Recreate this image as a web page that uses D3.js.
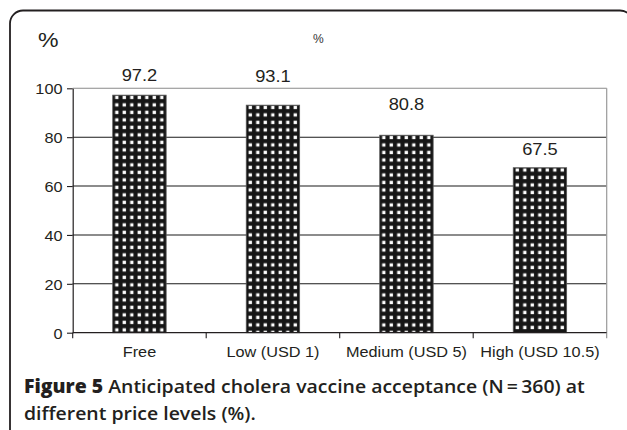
<!DOCTYPE html>
<html><head><meta charset="utf-8">
<script src="https://cdn.jsdelivr.net/npm/d3@7"></script>
<style>
html,body{margin:0;padding:0;background:#fff;}
svg{display:block;}
</style>
</head><body>
<script>
const categories = ["Free", "Low (USD 1)", "Medium (USD 5)", "High (USD 10.5)"];
const values = [97.2, 93.1, 80.8, 67.5];
const valueLabels = ["97.2", "93.1", "80.8", "67.5"];
const labelAt = [103, 102.6, 91.2, 72.7];
const yTicks = [0, 20, 40, 60, 80, 100];
const yTitle = "%";
const smallTitle = "%";
const captionBold = "Figure 5";
const captionLine1 = " Anticipated cholera vaccine acceptance (N\u2009=\u2009360) at";
const captionLine2 = "different price levels (%).";

const W = 627, H = 430;
const ink = "#231f20";
const chartFont = "'Liberation Sans', Arial, sans-serif";
const capFont = "'Open Sans', 'Noto Sans', sans-serif";

const svg = d3.select("body").append("svg").attr("width", W).attr("height", H);

// Frame
svg.append("rect").attr("x", 10).attr("y", 10.5).attr("width", 623).attr("height", 470)
  .attr("rx", 13).attr("fill", "none").attr("stroke", ink).attr("stroke-width", 1.8);

const x = d3.scaleBand().domain(categories).range([72.7, 606.7]).padding(0);
const y = d3.scaleLinear().domain([0, 100]).range([332.7, 88.3]);
const bw = x.bandwidth();

function stretchText(sel, s) {
  sel.each(function () {
    const t = d3.select(this);
    const tx = +t.attr("x") || 0, ty = +t.attr("y") || 0;
    t.attr("x", 0).attr("y", 0).attr("transform", `translate(${tx},${ty}) scale(${s},1)`);
  });
}

// Gridlines
const grid = svg.append("g");
grid.selectAll("line").data(yTicks.filter(d => d > 0)).join("line")
  .attr("x1", 72.7).attr("x2", 606.7)
  .attr("y1", d => y(d)).attr("y2", d => y(d))
  .attr("stroke", d => d === 100 ? "#8a8a8a" : "#1a1a1a").attr("stroke-width", 1.1);
// Right border
svg.append("line").attr("x1", 606.7).attr("x2", 606.7).attr("y1", y(100)).attr("y2", y(0))
  .attr("stroke", "#9a9a9a").attr("stroke-width", 1.2);

// Patterns & bars
const defs = svg.append("defs");
const ps = 7.5;
categories.forEach((c, i) => {
  const bx = x(c) + bw * 0.3, by = y(values[i]);
  const p = defs.append("pattern").attr("id", "dots" + i)
    .attr("patternUnits", "userSpaceOnUse").attr("x", bx).attr("y", by)
    .attr("width", ps).attr("height", ps);
  p.append("rect").attr("width", ps).attr("height", ps).attr("fill", "#161616");
  p.append("rect").attr("x", 2.4).attr("y", 0.6).attr("width", 3.3).attr("height", 3.3).attr("fill", "#fff");
});
svg.append("g").selectAll("rect").data(categories).join("rect")
  .attr("x", d => x(d) + bw * 0.3)
  .attr("y", (d, i) => y(values[i]))
  .attr("width", bw * 0.4)
  .attr("height", (d, i) => y(0) - y(values[i]))
  .attr("fill", (d, i) => `url(#dots${i})`)
  .attr("stroke", "#555").attr("stroke-width", 0.8);

// Y axis
const yAxis = svg.append("g").attr("transform", "translate(72.7,0)")
  .call(d3.axisLeft(y).tickValues(yTicks).tickSize(5.7).tickSizeOuter(0).tickPadding(4.5));
yAxis.select(".domain").attr("stroke", ink).attr("stroke-width", 1.2);
yAxis.selectAll(".tick line").attr("stroke", ink).attr("stroke-width", 1.1);
yAxis.selectAll(".tick text").attr("fill", ink).attr("font-family", chartFont).attr("font-size", 14.8).attr("dy", "0.36em");
stretchText(yAxis.selectAll(".tick text"), 1.1);

// X axis
svg.append("line").attr("x1", 72.7).attr("x2", 606.7).attr("y1", y(0)).attr("y2", y(0))
  .attr("stroke", ink).attr("stroke-width", 1.2);
const bounds = categories.map(c => x(c)).concat([x.range()[1]]);
svg.append("g").selectAll("line").data(bounds).join("line")
  .attr("x1", d => d).attr("x2", d => d).attr("y1", y(0)).attr("y2", y(0) + 5.5)
  .attr("stroke", (d, i) => i === bounds.length - 1 ? "#8a8a8a" : ink).attr("stroke-width", 1.1);
const xl = svg.append("g").selectAll("text").data(categories).join("text")
  .attr("x", d => x(d) + bw / 2).attr("y", 357.3)
  .attr("text-anchor", "middle").attr("font-family", chartFont).attr("font-size", 14.8)
  .attr("fill", ink).text(d => d);
stretchText(xl, 1.1);

// Value labels
const vl = svg.append("g").selectAll("text").data(categories).join("text")
  .attr("x", d => x(d) + bw / 2).attr("y", (d, i) => y(labelAt[i]))
  .attr("text-anchor", "middle").attr("font-family", chartFont).attr("font-size", 16.2)
  .attr("fill", ink).text((d, i) => valueLabels[i]);
stretchText(vl, 1.13);

// Titles
const t1 = svg.append("text").attr("x", 38).attr("y", 46.5).attr("font-family", chartFont)
  .attr("font-size", 21).attr("fill", ink).text(yTitle);
stretchText(t1, 1.1);
svg.append("text").attr("x", 313).attr("y", 42.5).attr("font-family", chartFont)
  .attr("font-size", 12).attr("fill", "#333").text(smallTitle);

// Caption
const cap1 = svg.append("text").attr("font-family", capFont).attr("font-size", 18.5).attr("fill", ink);
cap1.append("tspan").attr("font-weight", 800).text(captionBold);
cap1.append("tspan").attr("font-weight", 600).text(captionLine1);
const l1 = cap1.node().getComputedTextLength();
cap1.attr("transform", `translate(24,392.5) scale(${561 / l1},1)`);
const cap2 = svg.append("text").attr("font-family", capFont).attr("font-size", 18.5)
  .attr("font-weight", 600).attr("fill", ink).text(captionLine2);
cap2.attr("transform", `translate(24,420) scale(${561 / l1},1)`);
</script>
</body></html>
